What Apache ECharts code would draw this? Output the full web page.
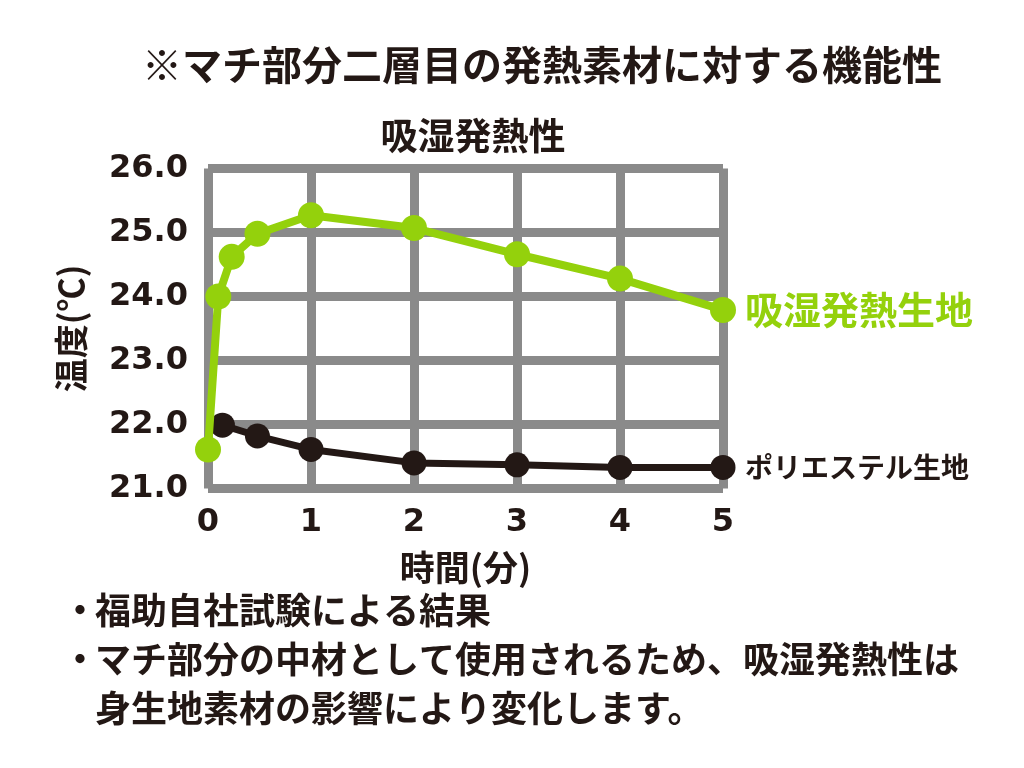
<!DOCTYPE html>
<html><head><meta charset="utf-8">
<script src="https://cdn.jsdelivr.net/npm/echarts@6/dist/echarts.min.js"></script>
<style>html,body{margin:0;padding:0;background:#fff}#c{width:1024px;height:768px}</style>
</head><body><div id="c"></div>
<script>
const mainTitle = '※マチ部分二層目の発熱素材に対する機能性';
const subTitle = '吸湿発熱性';
const yAxisName = '温度(℃)';
const xAxisName = '時間(分)';
const seriesNames = ['吸湿発熱生地', 'ポリエステル生地'];
const greenX = [0, 0.1, 0.23, 0.48, 1, 2, 3, 4, 5];
const greenY = [21.61, 24.0, 24.62, 24.98, 25.27, 25.07, 24.66, 24.28, 23.79];
const blackX = [0.14, 0.48, 1, 2, 3, 4, 5];
const blackY = [21.99, 21.82, 21.61, 21.40, 21.37, 21.33, 21.33];
const notes = ['福助自社試験による結果', 'マチ部分の中材として使用されるため、吸湿発熱性は', '身生地素材の影響により変化します。'];
const bullets = ['・', '・', ''];

const FONT = '"Noto Sans CJK JP", "Noto Sans", sans-serif';
const NUMFONT = '"DejaVu Sans", sans-serif';
const INK = '#231815';
const GREEN = '#94d10c';
const GRIDC = '#8a8a8a';

const chart = echarts.init(document.getElementById('c'), null, {renderer: 'canvas'});
const pair = (xs, ys) => xs.map((x, i) => [x, ys[i]]);
const graphics = [];
notes.forEach((t, i) => {
  graphics.push({type: 'text', left: 95, top: 592 + i * 49, style: {text: t, font: 'bold 36px ' + FONT, fill: INK}});
  if (bullets[i]) graphics.push({type: 'text', left: 62, top: 592 + i * 49, style: {text: bullets[i], font: 'bold 36px ' + FONT, fill: INK}});
});
chart.setOption({
  backgroundColor: '#fff',
  animation: false,
  title: [
    {text: mainTitle, left: 537, textAlign: 'center', top: 40, textStyle: {fontFamily: FONT, fontSize: 40, fontWeight: 'bold', color: INK}},
    {text: subTitle, left: 468, textAlign: 'center', top: 112, textStyle: {fontFamily: FONT, fontSize: 37, fontWeight: 'bold', color: INK}}
  ],
  grid: {left: 208, right: 301, top: 168.5, bottom: 279.5, containLabel: false},
  xAxis: {
    type: 'value', min: 0, max: 5, interval: 1,
    name: xAxisName, nameLocation: 'middle', nameGap: 62,
    nameTextStyle: {fontFamily: FONT, fontSize: 35, fontWeight: 'bold', color: INK},
    axisLine: {show: false}, axisTick: {show: false},
    axisLabel: {fontFamily: NUMFONT, fontSize: 32, fontWeight: 'bold', color: INK, margin: 18},
    splitLine: {show: true, lineStyle: {color: GRIDC, width: 9}}
  },
  yAxis: {
    type: 'value', min: 21, max: 26, interval: 1,
    name: yAxisName, nameLocation: 'middle', nameGap: 120, nameRotate: 90,
    nameTextStyle: {fontFamily: FONT, fontSize: 34, fontWeight: 'bold', color: INK},
    axisLine: {show: false}, axisTick: {show: false},
    axisLabel: {fontFamily: NUMFONT, fontSize: 32, fontWeight: 'bold', color: INK, margin: 20, formatter: v => v.toFixed(1)},
    splitLine: {show: true, lineStyle: {color: GRIDC, width: 9}}
  },
  series: [
    {
      name: seriesNames[1], type: 'line', data: pair(blackX, blackY),
      symbol: 'circle', symbolSize: 25, z: 3,
      lineStyle: {color: INK, width: 7}, itemStyle: {color: INK},
      endLabel: {show: true, formatter: '{a}', distance: 22, fontFamily: FONT, fontSize: 28, fontWeight: 'bold', color: INK}
    },
    {
      name: seriesNames[0], type: 'line', data: pair(greenX, greenY),
      symbol: 'circle', symbolSize: 26, z: 4,
      lineStyle: {color: GREEN, width: 8}, itemStyle: {color: GREEN},
      endLabel: {show: true, formatter: '{a}', distance: 22, fontFamily: FONT, fontSize: 38, fontWeight: 'bold', color: GREEN}
    }
  ],
  graphic: graphics
});
</script></body></html>
